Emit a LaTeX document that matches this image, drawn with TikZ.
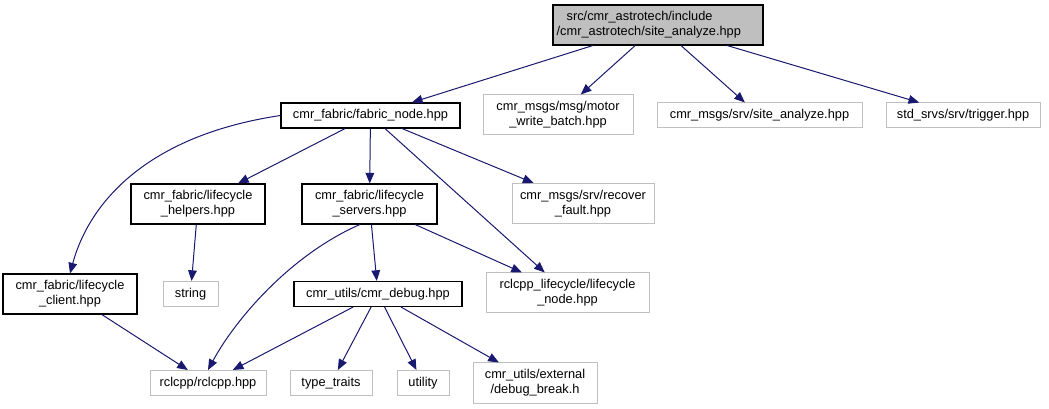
\documentclass[tikz,border=0pt]{standalone}
\usepackage{fontspec}
\setmainfont{Liberation Sans}
\usetikzlibrary{arrows.meta}
\definecolor{edgeblue}{HTML}{191970}
\definecolor{greyline}{HTML}{BFBFBF}
\begin{document}
\begin{tikzpicture}[x=0.75pt,y=-0.75pt,
  box/.style={draw, inner sep=0pt, align=center, font=\fontsize{9.6}{11.25}\selectfont, line width=0.8pt},
  blackbox/.style={box, draw=black},
  greybox/.style={box, draw=greyline, line width=0.75pt},
  rootbox/.style={box, draw=black, fill=greyline},
  one/.style={minimum height=18.75pt},
  two/.style={minimum height=30pt},
  edge/.style={draw=edgeblue, line width=0.75pt, -{Triangle[length=8pt,width=6.5pt]}, edgeblue}
]
\useasboundingbox (0,0) rectangle (1049,409);
\fill[white] (0,0) rectangle (1049,409);

\node[rootbox, two, minimum width=157.5pt, text width=152pt, inner xsep=2.75pt, align=left] (root) at (658,25) {\hspace{7.5pt}src/cmr\_astrotech/include\\/cmr\_astrotech/site\_analyze.hpp};
\node[blackbox, one, minimum width=134.25pt] (fabric) at (370.5,115.5) {cmr\_fabric/fabric\_node.hpp};
\node[greybox, two, minimum width=112.5pt] (motor) at (558,115) {cmr\_msgs/msg/motor\\\_write\_batch.hpp};
\node[greybox, one, minimum width=153.75pt] (site) at (759.5,115.5) {cmr\_msgs/srv/site\_analyze.hpp};
\node[greybox, one, minimum width=115.5pt] (trigger) at (963,115.5) {std\_srvs/srv/trigger.hpp};
\node[blackbox, two, minimum width=100.5pt] (helpers) at (198,204) {cmr\_fabric/lifecycle\\\_helpers.hpp};
\node[blackbox, two, minimum width=101.25pt] (servers) at (369.5,204) {cmr\_fabric/lifecycle\\\_servers.hpp};
\node[greybox, two, minimum width=106.5pt] (recover) at (583,203.5) {cmr\_msgs/srv/recover\\\_fault.hpp};
\node[blackbox, two, minimum width=100.5pt] (client) at (70,294) {cmr\_fabric/lifecycle\\\_client.hpp};
\node[greybox, one, minimum width=41.25pt] (string) at (190.5,294) {string};
\node[blackbox, one, minimum width=126pt] (debug) at (378,294) {cmr\_utils/cmr\_debug.hpp};
\node[greybox, two, minimum width=122.25pt] (lnode) at (567.5,293) {rclcpp\_lifecycle/lifecycle\\\_node.hpp};
\node[greybox, one, minimum width=87pt] (rclcpp) at (208,383) {rclcpp/rclcpp.hpp};
\node[greybox, one, minimum width=61.5pt] (traits) at (331,383) {type\_traits};
\node[greybox, one, minimum width=39pt] (utility) at (423,383) {utility};
\node[greybox, two, minimum width=93pt] (dbreak) at (535,383) {cmr\_utils/external\\/debug\_break.h};

\draw[edge] (root) -- (fabric);
\draw[edge] (root) -- (motor);
\draw[edge] (root) -- (site);
\draw[edge] (root) -- (trigger);
\draw[edge] (fabric.west) .. controls (150,135) and (90,200) .. (client.north);
\draw[edge] (fabric) -- (helpers);
\draw[edge] (fabric) -- (servers);
\draw[edge] (fabric) -- (recover);
\draw[edge] (fabric) -- (lnode);
\draw[edge] (helpers) -- (string);
\draw[edge] (servers) -- (debug);
\draw[edge] (servers.-115) .. controls (290,255) and (235,320) .. (rclcpp.north);
\draw[edge] (servers) -- (lnode);
\draw[edge] (client) -- (rclcpp);
\draw[edge] (debug) -- (rclcpp);
\draw[edge] (debug) -- (traits);
\draw[edge] (debug) -- (utility);
\draw[edge] (debug) -- (dbreak);
\end{tikzpicture}
\end{document}
